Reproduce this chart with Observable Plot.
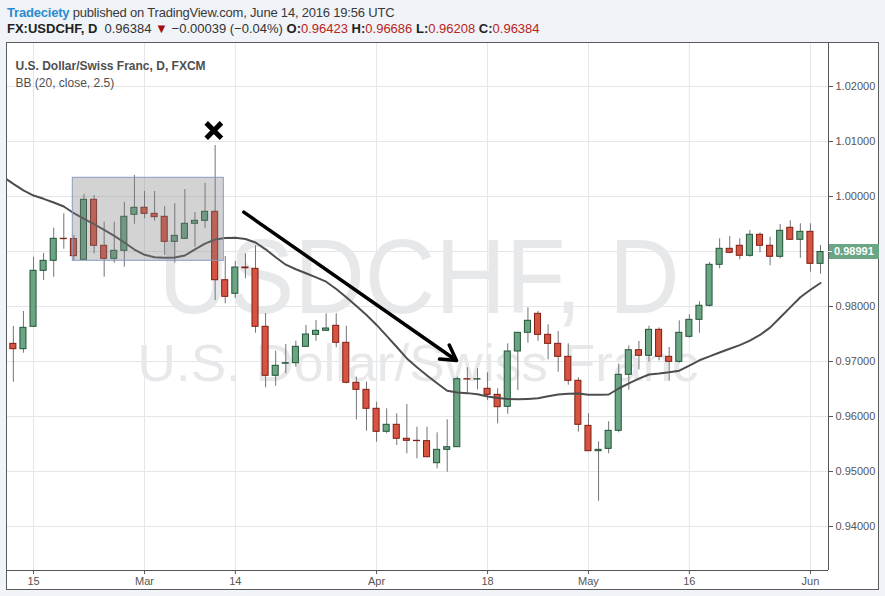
<!DOCTYPE html>
<html><head><meta charset="utf-8">
<script src="https://cdn.jsdelivr.net/npm/d3@7"></script>
<script src="https://cdn.jsdelivr.net/npm/@observablehq/plot@0.6"></script>
<style>
html,body{margin:0;padding:0;background:#f0f3f7;width:885px;height:596px;overflow:hidden;font-family:"Liberation Sans",Arial,sans-serif;}
.hd{position:absolute;left:7px;font-size:13px;line-height:15px;white-space:nowrap;color:#3a3a3a;}
#h1{top:5px;letter-spacing:-0.2px;}
#h2{top:21px;color:#333;}
#h2 b{color:#222;}
.r{color:#b8241c;}
#pane{position:absolute;left:6px;top:42px;width:871px;height:546px;border:1px solid #5b5b5b;background:#fff;}
#pane svg{display:block;}
</style>
</head><body>
<div id="h1" class="hd"><span style="color:#2b8bd0;font-weight:bold">Tradeciety</span> published on TradingView.com, June 14, 2016 19:56 UTC</div>
<div id="h2" class="hd"><b>FX:USDCHF, D</b>&nbsp; 0.96384 <span style="color:#a30f0f">▼</span> −0.00039 (−0.04%) <b>O:</b><span class="r">0.96423</span> <b>H:</b><span class="r">0.96686</span> <b>L:</b><span class="r">0.96208</span> <b>C:</b><span class="r">0.96384</span></div>
<div id="pane"></div>
<script>
// ---- data ----
const tradingDays = [
"2016-02-11","2016-02-12","2016-02-15","2016-02-16","2016-02-17","2016-02-18","2016-02-19","2016-02-22","2016-02-23","2016-02-24","2016-02-25","2016-02-26","2016-02-29",
"2016-03-01","2016-03-02","2016-03-03","2016-03-04","2016-03-07","2016-03-08","2016-03-09","2016-03-10","2016-03-11","2016-03-14","2016-03-15","2016-03-16","2016-03-17","2016-03-18","2016-03-21","2016-03-22","2016-03-23","2016-03-24","2016-03-25","2016-03-28","2016-03-29","2016-03-30","2016-03-31",
"2016-04-01","2016-04-04","2016-04-05","2016-04-06","2016-04-07","2016-04-08","2016-04-11","2016-04-12","2016-04-13","2016-04-14","2016-04-15","2016-04-18","2016-04-19","2016-04-20","2016-04-21","2016-04-22","2016-04-25","2016-04-26","2016-04-27","2016-04-28","2016-04-29",
"2016-05-02","2016-05-03","2016-05-04","2016-05-05","2016-05-06","2016-05-09","2016-05-10","2016-05-11","2016-05-12","2016-05-13","2016-05-16","2016-05-17","2016-05-18","2016-05-19","2016-05-20","2016-05-23","2016-05-24","2016-05-25","2016-05-26","2016-05-27","2016-05-30","2016-05-31",
"2016-06-01","2016-06-02"];

const open = [0.97321,0.97224,0.97631,0.98649,0.98831,0.99231,0.99225,0.98849,0.99940,0.99104,0.98867,0.99013,0.99667,
0.99795,0.99685,0.99631,0.99176,0.99231,0.99504,0.99558,0.99722,0.98478,0.98231,0.98709,0.98685,0.97631,0.96740,0.96960,0.96969,0.97267,0.97485,0.97558,0.97649,0.97340,0.96613,0.96485,
0.96140,0.95722,0.95849,0.95595,0.95558,0.95552,0.95151,0.95394,0.95442,0.96678,0.96672,0.96504,0.96394,0.96176,0.97182,0.97522,0.97867,0.97485,0.97321,0.97085,0.96649,
0.95830,0.95369,0.95412,0.95740,0.96758,0.97205,0.97104,0.97576,0.97085,0.96994,0.97449,0.97758,0.98013,0.98758,0.99049,0.99104,0.98922,0.99304,0.99104,0.98904,0.99431,0.99213,
0.99358,0.98776];
const high = [0.97636,0.97909,0.98896,0.98964,0.99424,0.99685,0.99291,1.00036,1.00018,0.99533,0.99533,0.99896,1.00382,
1.00091,1.00091,0.99818,0.99867,1.00127,0.99709,1.00240,1.00927,0.98909,0.98818,0.98958,0.99104,0.97873,0.97187,0.97309,0.97369,0.97655,0.97745,0.97867,0.97867,0.97642,0.96715,0.96624,
0.96260,0.96140,0.96049,0.96218,0.95805,0.95805,0.95704,0.95940,0.96715,0.96885,0.96867,0.96794,0.96504,0.97321,0.97525,0.97976,0.97909,0.97667,0.97545,0.97321,0.96704,
0.96049,0.95540,0.95904,0.96958,0.97285,0.97364,0.97642,0.97612,0.97255,0.97740,0.97849,0.98085,0.98800,0.99231,0.99273,0.99231,0.99382,0.99340,0.99260,0.99491,0.99558,0.99504,
0.99504,0.99109];
const low = [0.96624,0.97151,0.97620,0.98473,0.98533,0.99042,0.98836,0.98840,0.98958,0.98533,0.98787,0.98715,0.99496,
0.99595,0.99551,0.98927,0.98787,0.99220,0.99078,0.99413,0.98109,0.98049,0.98151,0.98504,0.97515,0.96522,0.96551,0.96776,0.96896,0.97255,0.97369,0.97553,0.97249,0.96594,0.95940,0.95733,
0.95533,0.95685,0.95473,0.95322,0.95231,0.95250,0.95049,0.94987,0.95440,0.96400,0.96485,0.96291,0.95867,0.96042,0.96473,0.97333,0.97369,0.97031,0.96805,0.96569,0.95715,
0.95365,0.94460,0.95322,0.95704,0.96478,0.96849,0.96987,0.97012,0.96642,0.96969,0.97424,0.97515,0.97988,0.98685,0.98958,0.98849,0.98896,0.98976,0.98740,0.98867,0.99205,0.98878,
0.98624,0.98587];
const close = [0.97224,0.97612,0.98649,0.98831,0.99231,0.99225,0.98915,0.99940,0.99104,0.98867,0.99013,0.99631,0.99795,
0.99685,0.99624,0.99176,0.99285,0.99504,0.99558,0.99722,0.98478,0.98176,0.98709,0.98695,0.97631,0.96740,0.96922,0.96969,0.97267,0.97491,0.97558,0.97600,0.97340,0.96613,0.96485,0.96140,
0.95722,0.95849,0.95595,0.95558,0.95552,0.95260,0.95394,0.95442,0.96678,0.96672,0.96678,0.96394,0.96169,0.97182,0.97522,0.97740,0.97485,0.97321,0.97085,0.96649,0.95849,
0.95369,0.95394,0.95740,0.96758,0.97205,0.97104,0.97576,0.97085,0.96994,0.97522,0.97758,0.98013,0.98758,0.99049,0.98976,0.98922,0.99304,0.99104,0.98904,0.99376,0.99213,0.99358,
0.98776,0.98991];

// BB (20, close) basis line, read at each bar, plus the day before the first visible bar
const bbBasisLeadIn = 1.00355; // 2016-02-10
const bbBasis = [1.00229,1.00113,1.00018,0.99958,0.99891,0.99818,0.99696,0.99595,0.99496,0.99393,0.99285,0.99164,0.99036,
0.98940,0.98896,0.98887,0.98891,0.98927,0.99040,0.99144,0.99218,0.99244,0.99249,0.99227,0.99164,0.99040,0.98895,0.98760,0.98678,0.98604,0.98529,0.98451,0.98318,0.98167,0.98007,0.97847,
0.97665,0.97467,0.97264,0.97056,0.96895,0.96747,0.96604,0.96467,0.96438,0.96425,0.96404,0.96364,0.96335,0.96318,0.96313,0.96320,0.96331,0.96367,0.96402,0.96413,0.96420,
0.96395,0.96396,0.96400,0.96509,0.96604,0.96689,0.96764,0.96782,0.96805,0.96833,0.96924,0.97022,0.97093,0.97164,0.97231,0.97298,0.97380,0.97482,0.97616,0.97800,0.97984,0.98167,
0.98304,0.98427];

const xTickDays = ["2016-02-15","2016-03-01","2016-03-14","2016-04-01","2016-04-18","2016-05-02","2016-05-16","2016-06-01"];
const xTickLabels = ["15","Mar","14","Apr","18","May","16","Jun"];
const yGrid = [0.94,0.95,0.96,0.97,0.98,0.99,1.00,1.01,1.02];
const yTickLabels = [0.94,0.95,0.96,0.97,0.98,1.00,1.01,1.02]; // 0.99000 hidden behind the last-price tag
const lastPrice = 0.98991;

// visible window (bar positions, price)
const xDomain = [-0.58, 80.79];
const yDomain = [0.932, 1.02782];

// drawn annotations (bar positions / prices)
const rangeBox = [{x1: 5.89, x2: 20.86, y1: 0.98831, y2: 1.0034}];
const crossMark = [{x: 19.87, y: 1.0120}];
const trendArrow = [{x1: 22.84, y1: 0.99715, x2: 43.92, y2: 0.97018}];

// ---- build ----
const candles = tradingDays.map((d, k) => ({pos: k, date: d, o: open[k], h: high[k], l: low[k], c: close[k], up: close[k] >= open[k]}));
const basis = [{pos: -1, v: bbBasisLeadIn}, ...bbBasis.map((v, k) => ({pos: k, v}))];
const xTickPos = xTickDays.map(d => tradingDays.indexOf(d));
const grid = "#e4e6ea";
const wm = "#e7e8ea";
const halfBody = 0.3;

const plot = Plot.plot({
  width: 871, height: 546,
  marginLeft: 0, marginRight: 50, marginTop: 0, marginBottom: 19,
  style: {fontFamily: "Liberation Sans, Arial, sans-serif", fontSize: "11px", color: "#555", background: "transparent", overflow: "visible"},
  x: {type: "linear", domain: xDomain, ticks: xTickPos, tickFormat: p => xTickLabels[xTickPos.indexOf(p)], tickSize: 4, tickPadding: 3, label: null, line: false},
  y: {type: "linear", domain: yDomain, ticks: yTickLabels, tickFormat: v => v.toFixed(5), axis: "right", tickSize: 4, tickPadding: 3, label: null},
  marks: [
    Plot.ruleX(xTickPos, {stroke: grid}),
    Plot.ruleY(yGrid, {stroke: grid}),
    Plot.text(["USDCHF, D"], {frameAnchor: "middle", dx: 1, dy: -28, fontSize: 105, fill: wm, fontFamily: "Liberation Sans, Arial, sans-serif"}),
    Plot.text(["U.S. Dollar/Swiss Franc"], {frameAnchor: "middle", dx: 0, dy: 57, fontSize: 52, fill: wm, fontFamily: "Liberation Sans, Arial, sans-serif"}),
    Plot.ruleX(candles, {x: "pos", y1: "l", y2: "h", stroke: "#737375", strokeWidth: 1}),
    Plot.rect(candles, {x1: d => d.pos - halfBody, x2: d => d.pos + halfBody, y1: "o", y2: "c",
      fill: d => d.up ? "#6ba583" : "#d75442", stroke: d => d.up ? "#225437" : "#7e1d10", strokeWidth: 1}),
    Plot.line(basis, {x: "pos", y: "v", stroke: "#4d4d4f", strokeWidth: 2, clip: true}),
    Plot.rect(rangeBox, {x1: "x1", x2: "x2", y1: "y1", y2: "y2", fill: "rgb(128,128,132)", fillOpacity: 0.35, stroke: "#8a9bc2", strokeWidth: 1}),
    Plot.dot(crossMark, {x: "x", y: "y", symbol: "times", r: 7, stroke: "#000", strokeWidth: 5, strokeLinecap: "butt"}),
    Plot.arrow(trendArrow, {x1: "x1", y1: "y1", x2: "x2", y2: "y2", stroke: "#000", strokeWidth: 3.5, headLength: 7.3, headAngle: 60}),
    Plot.text(["U.S. Dollar/Swiss Franc, D, FXCM"], {frameAnchor: "top-left", dx: 8, dy: 18, fontSize: 12, fontWeight: "bold", fill: "#4f4f4f", textAnchor: "start"}),
    Plot.text(["BB (20, close, 2.5)"], {frameAnchor: "top-left", dx: 8, dy: 35, fontSize: 12, fill: "#4f4f4f", textAnchor: "start"}),
    Plot.ruleX([xDomain[1]], {stroke: "#555"}),
    Plot.ruleY([yDomain[0]], {stroke: "#555"})
  ]
});
document.getElementById("pane").appendChild(plot);

// watermark widths & last-price tag
const svg = d3.select(plot);
svg.selectAll("text").filter(function(){ return this.textContent === "USDCHF, D"; })
  .attr("textLength", 521).attr("lengthAdjust", "spacingAndGlyphs");
svg.selectAll("text").filter(function(){ return this.textContent === "U.S. Dollar/Swiss Franc"; })
  .attr("textLength", 561).attr("lengthAdjust", "spacingAndGlyphs");
const yS = plot.scale("y"), xS = plot.scale("x");
const ty = yS.apply(lastPrice);
const tx = xS.apply(xDomain[1]);
const tag = svg.append("g").attr("text-anchor", "start");
tag.append("rect").attr("x", tx + 1).attr("y", ty - 7.5).attr("width", 50).attr("height", 15).attr("fill", "#6aa584");
tag.append("line").attr("x1", tx).attr("x2", tx + 4).attr("y1", ty).attr("y2", ty).attr("stroke", "#fff");
tag.append("text").attr("x", tx + 6).attr("y", ty).attr("dy", "0.35em").attr("fill", "#fff")
  .attr("font-size", 11).attr("font-weight", "bold").text(lastPrice.toFixed(5));
</script>
</body></html>
